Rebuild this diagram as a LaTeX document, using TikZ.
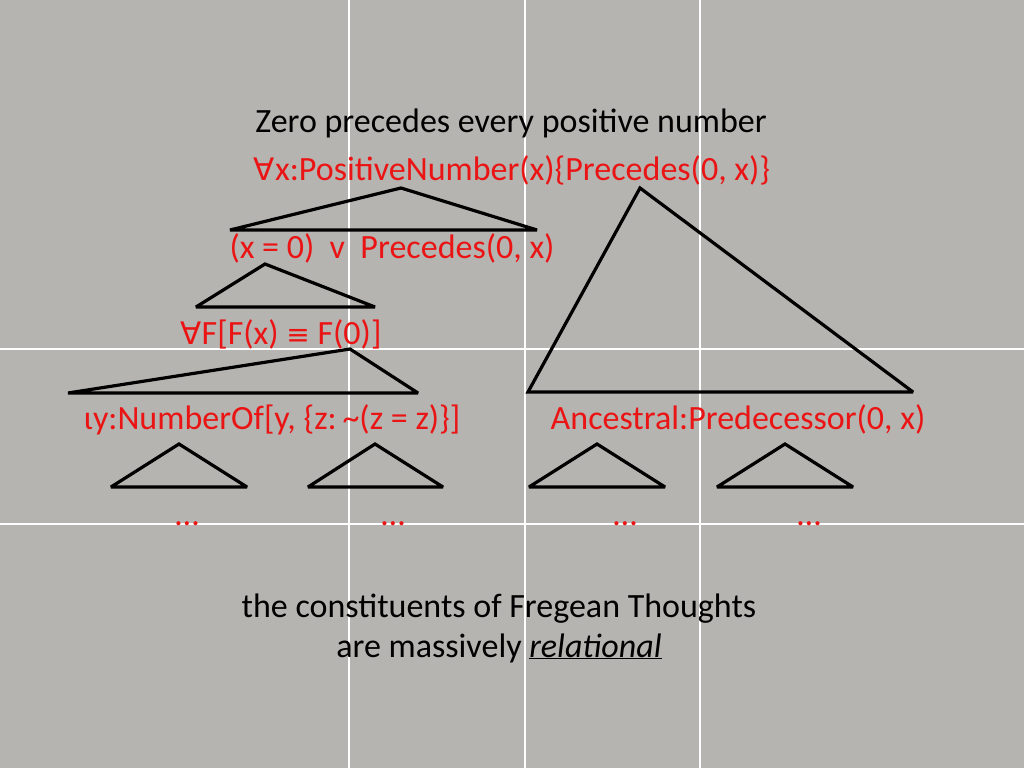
\documentclass[tikz,border=0pt]{standalone}
\usepackage{fontspec}
\setmainfont{Carlito}
\newfontfamily\symf{DejaVu Sans}
\definecolor{bg}{RGB}{181,180,176}
\definecolor{fred}{RGB}{235,20,20}
\newcommand{\fa}{{\symf\fontsize{31}{40}\selectfont ∀}}
\newcommand{\eqv}{{\symf\fontsize{28}{40}\selectfont ≡}}
\begin{document}
\begin{tikzpicture}[x=1pt,y=-1pt,
  txt/.style={anchor=base,inner sep=0pt,font=\fontsize{34}{40}\selectfont},
  rtxt/.style={txt,text=fred},
  tri/.style={draw=black,line width=3.2pt,line join=miter,miter limit=2.5},
  grid/.style={draw=white,line width=1.2pt}]
\useasboundingbox[fill=bg] (0,0) rectangle (1024,768);
% grid
\draw[grid] (349,0) -- (349,768);
\draw[grid] (525,0) -- (525,768);
\draw[grid] (700,0) -- (700,768);
\draw[grid] (0,349) -- (1024,349);
\draw[grid] (0,524) -- (1024,524);
% texts
\node[txt] (title) at (511,132) {Zero precedes every positive number};
\node[rtxt] (all) at (512,180) {\fa x:PositiveNumber(x)\{Precedes(0, x)\}};
\node[rtxt] (disj) at (392,258) {(x = 0)\ \ v\ \ Precedes(0, x)};
\node[rtxt] (ff) at (281,344) {\fa F[F(x) \eqv\ F(0)]};
\node[rtxt] (num) at (272,429) {ιy:NumberOf[y, \{z:\kern-2pt\ \textasciitilde(z = z)\}]};
\node[rtxt] (anc) at (738,429) {Ancestral:Predecessor(0, x)};
\node[rtxt] (d1) at (187,525) {…};
\node[rtxt] (d2) at (393,525) {…};
\node[rtxt] (d3) at (625,525) {…};
\node[rtxt] (d4) at (809,525) {…};
\node[txt] (c1) at (499,617) {the constituents of Fregean Thoughts};
\node[txt] (c2) at (499,657) {are massively \underline{\textit{relational}}};
% triangles
\draw[tri] (230,230) -- (401,188) -- (537,230) -- cycle;
\draw[tri] (196,307) -- (265,264) -- (375,307) -- cycle;
\draw[tri] (68,393) -- (350,349) -- (418,393) -- cycle;
\draw[tri] (528,392) -- (640,188) -- (913,392) -- cycle;
\draw[tri] (111,487) -- (179,444) -- (247,487) -- cycle;
\draw[tri] (308,487) -- (375,444) -- (443,487) -- cycle;
\draw[tri] (529,487) -- (597,444) -- (665,487) -- cycle;
\draw[tri] (717,487) -- (785,444) -- (853,487) -- cycle;
\end{tikzpicture}
\end{document}
